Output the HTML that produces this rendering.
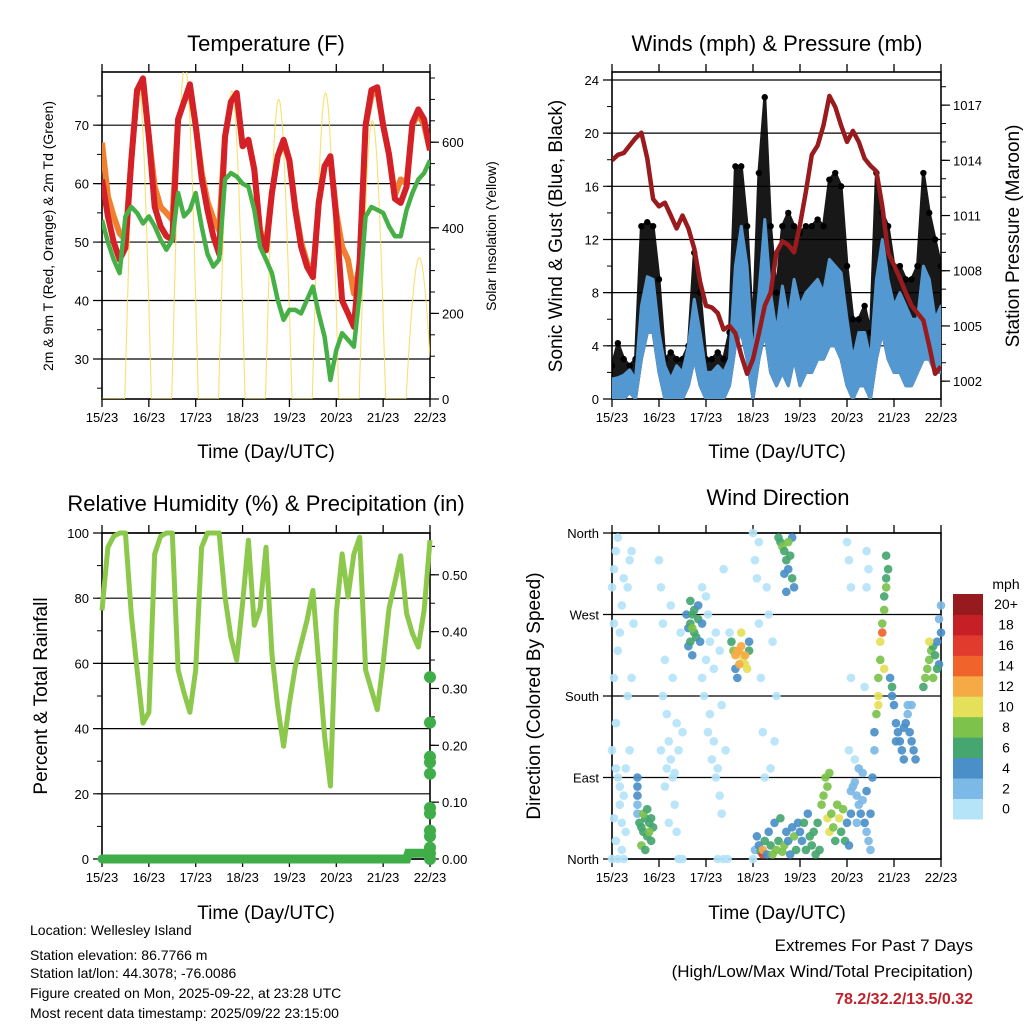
<!DOCTYPE html>
<html><head><meta charset="utf-8"><style>
html,body{margin:0;padding:0;background:#fff;}
svg{display:block;font-family:"Liberation Sans",sans-serif;}
</style></head><body>
<svg id="fig" width="1024" height="1024" viewBox="0 0 1024 1024" xmlns="http://www.w3.org/2000/svg">
<g id="layer"></g>
<g id="textlayer" font-family="Liberation Sans, sans-serif">
<text x="266" y="51" font-size="22" text-anchor="middle">Temperature (F)</text>
<text x="777" y="51" font-size="22" text-anchor="middle">Winds (mph) &amp; Pressure (mb)</text>
<text x="266" y="511" font-size="22" text-anchor="middle">Relative Humidity (%) &amp; Precipitation (in)</text>
<text x="778" y="505" font-size="22" text-anchor="middle">Wind Direction</text>
<text x="266" y="458" font-size="19" text-anchor="middle">Time (Day/UTC)</text>
<text x="777" y="458" font-size="19" text-anchor="middle">Time (Day/UTC)</text>
<text x="266" y="919" font-size="19" text-anchor="middle">Time (Day/UTC)</text>
<text x="777" y="919" font-size="19" text-anchor="middle">Time (Day/UTC)</text>
<text transform="translate(53,236) rotate(-90)" font-size="14" text-anchor="middle">2m &amp; 9m T (Red, Orange) &amp; 2m Td (Green)</text>
<text transform="translate(496,236) rotate(-90)" font-size="14" text-anchor="middle">Solar Insolation (Yellow)</text>
<text transform="translate(562,236) rotate(-90)" font-size="19" text-anchor="middle">Sonic Wind &amp; Gust (Blue, Black)</text>
<text transform="translate(1019,236) rotate(-90)" font-size="19" text-anchor="middle">Station Pressure (Maroon)</text>
<text transform="translate(47,696) rotate(-90)" font-size="19" text-anchor="middle">Percent &amp; Total Rainfall</text>
<text transform="translate(540,696) rotate(-90)" font-size="19" text-anchor="middle">Direction (Colored By Speed)</text>
<g font-size="14">
<text x="30" y="935">Location: Wellesley Island</text>
<text x="30" y="960">Station elevation: 86.7766 m</text>
<text x="30" y="978">Station lat/lon: 44.3078; -76.0086</text>
<text x="30" y="998">Figure created on Mon, 2025-09-22, at 23:28 UTC</text>
<text x="30" y="1018">Most recent data timestamp: 2025/09/22 23:15:00</text>
</g>
<g font-size="17" text-anchor="end">
<text x="973" y="951">Extremes For Past 7 Days</text>
<text x="973" y="977">(High/Low/Max Wind/Total Precipitation)</text>
<text x="973" y="1004" fill="#c0222a" font-weight="bold" font-size="16">78.2/32.2/13.5/0.32</text>
</g>
<text x="1006" y="589" font-size="14" text-anchor="middle">mph</text>
</g>
</svg>
<script>
// ---------- DATA ----------
const dayLabels = ["15/23","16/23","17/23","18/23","19/23","20/23","21/23","22/23"];
const hours3 = [0,3,6,9,12,15,18,21,24,27,30,33,36,39,42,45,48,51,54,57,60,63,66,69,72,75,78,81,84,87,90,93,96,99,102,105,108,111,114,117,120,123,126,129,132,135,138,141,144,147,150,153,156,159,162,165,168];
const tempRed = [60.7,54.4,50,47,49,64,76,78,68,56,52.7,51,50.4,71,74,77,70,61,55.5,51,48,68,74,75.5,66.4,67.5,62.4,51.5,48.6,58.4,64.7,67.5,64,55.5,49.2,45.8,44,56.7,63,64.7,54,40,37.8,35.5,47,70,76,76.5,70,65,57.4,56.7,59.5,70.4,72.7,71,65.7];
const tempOrange = [67,57.8,54.4,51.5,50.4,64,76,77,68,59.5,56,55,53.8,71,74,76,70,62,57,54,52,68,74,75,66.4,67.5,62.4,52,49.5,58.4,64.7,67,64,56,50,46.5,44.5,56.7,63,64.5,55,49.2,47,41.2,46,70,75,76,70,65,58,60.7,60,70,72,70,65.7];
const dewGreen = [53.8,50,47,44.7,54.4,56,55,53.2,54.4,52.7,50.4,48.7,50.4,58.4,54.4,55.5,58.4,52.7,48,45.8,47,60.7,61.8,61.2,60,59.5,55.5,49.2,47,44.7,40.1,36.7,38.4,38.4,37.8,40.1,42.4,37.8,33.8,26.4,31.5,34.4,33.3,32.1,41.2,54.4,56,55.5,55,52.7,51,51,55.5,58.4,60.7,61.8,64];
const solarPeaks = [740,780,720,700,715,650,330];
const windLow = [0,0,0,0.5,0,3,5,5,2,0,0,0,0,1,3,1,0,0,0,0,1,4,5,3,0,3,5,2,1,2,1,3,1,2,2,3,3,4,4,3,1,0,1,1,0,3,5,3,2,2,1,1,2,3,3,2,2];
const windHigh = [1.5,1.6,1.8,2.2,1.5,7,9.2,9,5,2.5,1.5,2.5,2,4,7.5,5,2,2,2.5,2,3,10,13,10,3,8,13.5,8,5,8.5,6,9,7,8,8.5,9,8,10.5,10,9.5,6,3,5,5,3,9,12,9,7,8,7,6,6,10,9,6,7];
const gustTop = [2.5,4.2,3,2.5,3,13,13.3,13,9,3,3.5,3,3,4,11,8,3,3,3.5,3,5,17.5,17.5,13,5,17,22.7,13,8,13,14,13,12.5,13,13,13.5,13,16.5,17,16,10,6,6,7,5,17,14,13,10,10,9,9,10,17,14,12,10];
const pressure = [1014,1014.3,1014.4,1014.8,1015.2,1015.5,1014.1,1011.9,1011.5,1011.7,1011,1010.3,1011,1010.3,1009.2,1007.4,1006.1,1006,1005.7,1004.8,1005,1004.6,1003.4,1002.4,1003.2,1004.6,1006.1,1006.8,1009,1009.6,1009.4,1009,1010.5,1012.3,1014.3,1014.8,1015.9,1017.5,1016.9,1015.9,1015,1015.6,1015,1014.1,1013.7,1013.4,1011.5,1009,1008.3,1007.6,1006.8,1006.1,1005.7,1005.3,1003.9,1002.4,1002.8];
const rhValues = [76.3,95.6,99,100,100,75,58,41.7,45,93.6,99,100,100,58,51,45,58,95.6,100,100,100,80.4,68,61,78.5,97.8,71.7,76.8,95.6,63,46.7,34.6,47.8,59,66,73.2,82.4,60,37.6,22.4,75.3,93.6,80.4,93.6,98.7,58,51.9,45.8,60,76.8,84.9,93,75.3,69.2,65,76.3,97.8];
const precipHours = [0,156,157,166,167.5];
const precipLine = [0,0,0.01,0.01,0.01];
const precipDots = [0.32,0.24,0.18,0.17,0.15,0.09,0.08,0.05,0.04,0.02,0.01,0.0];
const dirPoints = [
[0,300,1],[1,320,1],[2,340,1],[3,355,1],[4,250,1],[5,280,1],[1,200,1],[2,150,1],[0,120,1],[3,90,1],[4,60,1],[5,40,1],[2,20,1],[6,70,1],[7,100,1],[8,300,1],[9,330,1],[10,340,1],[11,260,1],[10,200,1],[1,260,1],[3,230,1],[6,310,1],[8,180,1],[9,120,1],[2,100,1],[4,80,1],[5,10,1],[1,45,1],[7,30,1],[0,0,1],[3,0,1],[6,0,1],
[13,90,4],[13,80,4],[13,70,4],[13,60,3],[13,50,3],
[14,40,6],[15,35,7],[16,30,6],[17,45,7],[18,25,6],[19,40,7],[20,20,6],[15,15,8],[17,10,6],[21,35,6],[16,50,8],[18,55,6],[19,30,8],[20,45,6],
[24,330,1],[25,300,1],[26,260,1],[27,220,1],[28,160,1],[29,130,1],[30,110,1],[31,90,1],[32,60,1],[33,30,1],[34,0,1],[35,0,1],[36,0,1],[25,120,1],[27,80,1],[29,40,1],[31,200,1],[33,150,1],[35,250,1],[30,280,1],[26,180,1],[28,100,1],[32,95,1],[34,120,1],[36,140,1],
[38,270,4],[39,255,4],[40,285,6],[40,260,6],[41,270,6],[42,250,6],[42,275,6],[43,245,6],[44,265,6],[44,280,4],[45,240,4],[46,260,4],[39,235,4],[41,225,4],[40,240,6],[41,255,8],
[46,300,1],[48,290,1],[50,240,1],[52,210,1],[47,180,1],[49,140,1],[51,110,1],[53,90,1],[55,70,1],[56,50,1],[54,0,1],[57,0,1],[59,0,1],[48,220,1],[50,160,1],[52,130,1],[54,100,1],[56,170,1],[58,120,1],[46,200,1],[49,270,1],[53,250,1],[55,230,1],[57,320,1],[60,250,1],
[61,240,6],[62,230,8],[63,225,12],[64,230,13],[65,228,13],[66,235,12],[67,222,10],[68,215,10],[69,210,10],[66,250,10],[70,230,6],[63,210,4],[64,200,4],[70,240,4],[65,215,12],[68,225,12],
[72,0,1],[73,330,1],[74,310,1],[75,260,1],[76,200,1],[77,140,1],[78,90,1],[80,270,1],[82,240,1],[84,180,1],[72,360,1],[75,350,1],[79,300,1],[83,130,1],[81,100,1],
[73,10,2],[74,25,4],[75,15,4],[76,8,6],[77,5,16],[77,10,12],[78,20,6],[79,5,4],[80,30,4],[81,15,6],[82,5,8],[83,40,4],[84,10,8],[85,20,6],[86,45,6],[87,8,8],[88,15,8],[89,30,4],[90,20,4],[91,5,4],[92,35,4],[93,25,8],[94,10,6],[95,40,4],
[85,355,6],[86,350,6],[87,345,8],[88,340,6],[89,330,6],[90,320,4],[91,335,6],[92,310,6],[93,300,4],[92,355,4],[90,350,8],[88,315,4],[89,295,4],
[96,30,4],[97,20,4],[98,40,6],[99,10,6],[100,50,4],[101,25,6],[102,15,6],[103,30,6],[104,5,6],[105,40,6],[106,10,6],[107,60,8],[108,70,8],[109,90,8],[110,45,10],[111,30,10],[112,50,8],[113,35,8],[114,20,6],[115,60,8],[116,45,10],[117,30,6],[118,55,8],[119,20,6],[120,40,4],[121,15,4],[122,50,4],[110,80,8],[111,95,8],
[122,75,2],[123,80,2],[124,85,2],[125,70,2],[126,60,2],[127,50,4],[128,65,2],[129,40,4],[130,30,2],[131,20,2],[132,10,2],[133,90,4],[134,120,2],[126,100,2],[124,110,1],[128,95,2],[130,75,4],[125,40,2],[132,50,4],[120,350,1],[121,330,1],[130,340,1],[122,300,1],[130,300,1],[131,320,1],[122,200,1],[129,190,1],[121,120,1],
[134,140,4],[135,160,8],[136,180,10],[136,200,8],[137,220,8],[137,240,10],[138,250,14],[138,260,8],[139,275,8],[139,290,6],[140,300,8],[140,310,6],[141,320,6],[140,335,6],[139,210,10],[136,170,10],
[142,200,4],[143,190,6],[143,180,4],[144,170,4],[145,150,4],[146,140,4],[147,130,4],[148,120,4],[149,145,4],[150,150,4],[151,160,2],[152,140,4],[153,130,4],[154,120,4],[155,110,4],[153,170,2],[151,170,2],[145,130,4],[149,110,4],
[159,190,6],[160,200,8],[161,210,8],[162,220,8],[163,230,8],[164,235,6],[165,225,6],[166,240,4],[167,215,4],[168,250,4],[162,240,10],[164,200,8],[166,210,6],[167,265,2],[168,280,2]
];
const speedColors = ["#b5e3f8","#7cb9e6","#4a8fc8","#45a66f","#7cc24b","#e5e059","#f6aa45","#f0632b","#e13b2d","#c71f26","#961a1e"];
const colorbarLabels = ["0","2","4","6","8","10","12","14","16","18","20+"];

// ---------- HELPERS ----------
const NS="http://www.w3.org/2000/svg";
const layer=document.getElementById('layer');
function mk(tag,attrs,parent){const e=document.createElementNS(NS,tag);for(const k in attrs)e.setAttribute(k,attrs[k]);(parent||layer).appendChild(e);return e;}
function panelScales(x0,x1,y0,y1,vmin,vmax){return{x:h=>x0+h/168*(x1-x0),y:v=>y1-(v-vmin)/(vmax-vmin)*(y1-y0)};}

function drawFrame(name,x0,x1,y0,y1){
  const g=mk('g',{});
  
  
  mk('rect',{x:x0,y:y0,width:x1-x0,height:y1-y0,fill:'none',stroke:'#000','stroke-width':1.6},g);
  const sx=h=>x0+h/168*(x1-x0);
  for(let d=0;d<8;d++){
    const x=sx(d*24);
    mk('line',{x1:x,x2:x,y1:y0-8,y2:y0,stroke:'#000','stroke-width':1.3},g);
    mk('line',{x1:x,x2:x,y1:y1,y2:y1+8,stroke:'#000','stroke-width':1.3},g);
    const t=mk('text',{x:x,y:y1+23,'font-size':13,'text-anchor':'middle'},g);
    t.textContent=dayLabels[d];
    
    
  }
  return g;
}
function leftAxis(g,x0,x1,yf,vals,labels,minors,grid){
  minors.forEach(v=>{mk('line',{x1:x0-5,x2:x0,y1:yf(v),y2:yf(v),stroke:'#000','stroke-width':1},g);});
  vals.forEach((v,i)=>{const y=yf(v);
    if(grid) mk('line',{x1:x0-9,x2:x1,y1:y,y2:y,stroke:'#000','stroke-width':1.2},g);
    else mk('line',{x1:x0-9,x2:x0,y1:y,y2:y,stroke:'#000','stroke-width':1.2},g);
    const t=mk('text',{x:x0-13,y:y+5,'font-size':13,'text-anchor':'end'},g);t.textContent=labels[i];
    
    });
}
function rightAxis(g,x1,yf,vals,labels,minors){
  minors.forEach(v=>{mk('line',{x1:x1,x2:x1+5,y1:yf(v),y2:yf(v),stroke:'#000','stroke-width':1},g);});
  vals.forEach((v,i)=>{const y=yf(v);
    mk('line',{x1:x1,x2:x1+9,y1:y,y2:y,stroke:'#000','stroke-width':1.2},g);
    const t=mk('text',{x:x1+12,y:y+5,'font-size':13,'text-anchor':'start'},g);t.textContent=labels[i];
    
    });
}
function pathFrom(xs,ys){return xs.map((x,i)=>(i?'L':'M')+x.toFixed(1)+','+ys[i].toFixed(1)).join('');}
function range(a,b,s){const r=[];for(let v=a;v<=b+1e-9;v+=s)r.push(+v.toFixed(4));return r;}

// ---------- PANEL 1: TEMPERATURE ----------
(function(){
  const x0=102,x1=430,y0=72,y1=399;
  const sT=panelScales(x0,x1,y0,y1,23.15,79.1);
  const sS=panelScales(x0,x1,y0,y1,0,764);
  const clip=mk('clipPath',{id:'c1'});mk('rect',{x:x0,y:y0,width:x1-x0,height:y1-y0},clip);
  const g=drawFrame('temperature',x0,x1,y0,y1);
  leftAxis(g,x0,x1,sT.y,[30,40,50,60,70],["30","40","50","60","70"],range(25,75,5),true);
  rightAxis(g,x1,sS.y,[0,200,400,600],["0","200","400","600"],range(0,750,50));
  const pg=mk('g',{'clip-path':'url(#c1)'});
  const sx=[],sy=[];
  for(let h=0;h<=168;h+=0.25){
    const d=Math.round((h-18.5)/24);let v=0;
    const c=18.5+24*d,hw=6.8;
    if(d>=0&&d<solarPeaks.length&&Math.abs(h-c)<hw) v=solarPeaks[d]*Math.cos((h-c)/hw*Math.PI/2);
    sx.push(sS.x(h));sy.push(sS.y(v));
  }
  const sp=mk('path',{d:pathFrom(sx,sy),fill:'none',stroke:'#f7dc55','stroke-width':1.1,opacity:0.85},pg);
  
  
  const xs=hours3.map(sT.x);
  const po=mk('path',{d:pathFrom(xs,tempOrange.map(sT.y)),fill:'none',stroke:'#f08030','stroke-width':6,'stroke-linejoin':'round'},pg);
  
  
  const pr=mk('path',{d:pathFrom(xs,tempRed.map(sT.y)),fill:'none',stroke:'#d42027','stroke-width':6,'stroke-linejoin':'round'},pg);
  
  
  const pd=mk('path',{d:pathFrom(xs,dewGreen.map(sT.y)),fill:'none',stroke:'#46b046','stroke-width':4.5,'stroke-linejoin':'round'},pg);
  
  
})();

// ---------- PANEL 2: WINDS ----------
(function(){
  const x0=612,x1=941,y0=72,y1=399;
  const sW=panelScales(x0,x1,y0,y1,0,24.6);
  const sP=panelScales(x0,x1,y0,y1,1001.03,1018.8);
  const clip=mk('clipPath',{id:'c2'});mk('rect',{x:x0,y:y0,width:x1-x0,height:y1-y0},clip);
  const g=drawFrame('winds',x0,x1,y0,y1);
  leftAxis(g,x0,x1,sW.y,[0,4,8,12,16,20,24],["0","4","8","12","16","20","24"],range(0,24,2),true);
  rightAxis(g,x1,sP.y,[1002,1005,1008,1011,1014,1017],["1002","1005","1008","1011","1014","1017"],range(1002,1018,1));
  const pg=mk('g',{'clip-path':'url(#c2)'});
  const xs=hours3.map(sW.x);
  const top=gustTop.map(sW.y),low=windLow.map(sW.y),hi=windHigh.map(sW.y);
  const gp=mk('path',{d:pathFrom(xs,top)+pathFrom(xs.slice().reverse(),low.slice().reverse()).replace('M','L')+'Z',fill:'#000',stroke:'#000','stroke-width':3,'stroke-linejoin':'round',opacity:0.9},pg);
  
  
  hours3.forEach((h,i)=>{const c=mk('circle',{cx:sW.x(h),cy:sW.y(gustTop[i]),r:3.2,fill:'#000'},pg);
    
    });
  const bp=mk('path',{d:pathFrom(xs,hi)+pathFrom(xs.slice().reverse(),low.slice().reverse()).replace('M','L')+'Z',fill:'#5498d2',stroke:'#5498d2','stroke-width':3,'stroke-linejoin':'round'},pg);
  
  
  const pp=mk('path',{d:pathFrom(xs,pressure.map(sP.y)),fill:'none',stroke:'#9a1b1e','stroke-width':4.5,'stroke-linejoin':'round'},pg);
  
  
})();

// ---------- PANEL 3: RH ----------
(function(){
  const x0=102,x1=430,y0=533,y1=859;
  const sR=panelScales(x0,x1,y0,y1,0,100);
  const sQ=panelScales(x0,x1,y0,y1,0,0.5735);
  const clip=mk('clipPath',{id:'c3'});mk('rect',{x:x0-8,y:y0-4,width:x1-x0+16,height:y1-y0+12},clip);
  const g=drawFrame('humidity',x0,x1,y0,y1);
  leftAxis(g,x0,x1,sR.y,[0,20,40,60,80,100],["0","20","40","60","80","100"],range(0,100,10),true);
  rightAxis(g,x1,sQ.y,[0,0.1,0.2,0.3,0.4,0.5],["0.00","0.10","0.20","0.30","0.40","0.50"],range(0,0.55,0.05));
  const pg=mk('g',{'clip-path':'url(#c3)'});
  const rp=mk('path',{d:pathFrom(hours3.map(sR.x),rhValues.map(sR.y)),fill:'none',stroke:'#8cc84b','stroke-width':5,'stroke-linejoin':'round'},pg);
  
  
  const pl=mk('path',{d:pathFrom(precipHours.map(sQ.x),precipLine.map(sQ.y)),fill:'none',stroke:'#3fae49','stroke-width':9,'stroke-linecap':'round'},pg);
  
  
  precipDots.forEach(v=>{const c=mk('circle',{cx:sQ.x(168),cy:sQ.y(v),r:6,fill:'#3fae49'},pg);
    
    });
})();

// ---------- PANEL 4: WIND DIRECTION ----------
(function(){
  const x0=612,x1=941,y0=533,y1=859;
  const sD=panelScales(x0,x1,y0,y1,0,360);
  const g=drawFrame('wind-direction',x0,x1,y0,y1);
  leftAxis(g,x0,x1,sD.y,[0,90,180,270,360],["North","East","South","West","North"],[],true);
  const pg=mk('g',{});
  dirPoints.forEach(p=>{
    const idx=Math.min(10,Math.floor(p[2]/2));
    const c=mk('circle',{cx:sD.x(p[0]),cy:sD.y(p[1]),r:4.3,fill:speedColors[idx],opacity:0.92},pg);
    
    
  });
  const cb=mk('g',{});
  
  
  const bx=953,bw=30,by=594,bh=20.45;
  for(let i=0;i<11;i++){
    const y=by+(10-i)*bh;
    const r=mk('rect',{x:bx,y:y,width:bw,height:bh+0.5,fill:speedColors[i]},cb);
    
    
    const t=mk('text',{x:1006,y:y+bh/2+5,'font-size':14,'text-anchor':'middle'},cb);
    t.textContent=colorbarLabels[i];
    
    
  }
})();
</script>
</body></html>
